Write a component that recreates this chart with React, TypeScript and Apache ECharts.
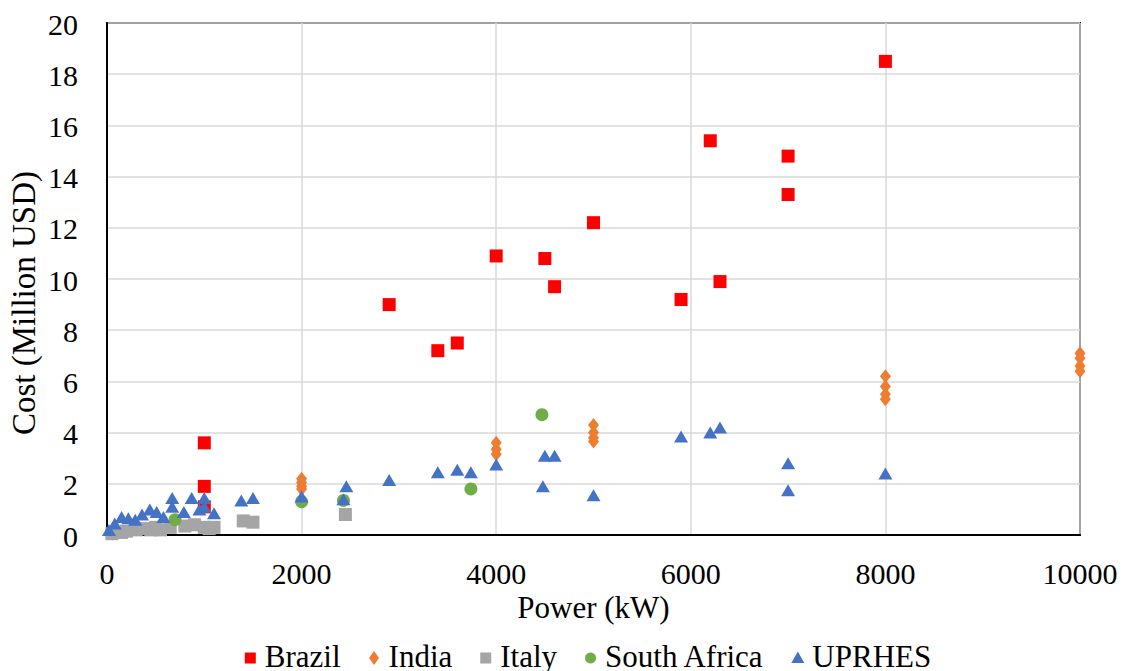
import React, { useEffect, useRef } from "react";
import * as echarts from "echarts";

const xTicks = [0, 2000, 4000, 6000, 8000, 10000];
const yTicks = [0, 2, 4, 6, 8, 10, 12, 14, 16, 18, 20];
const xTitle = "Power (kW)";
const yTitle = "Cost (Million USD)";

const seriesNames = ["Brazil", "India", "Italy", "South Africa", "UPRHES"];
const seriesColors = ["#FF0000", "#ED7D31", "#A5A5A5", "#70AD47", "#4472C4"];

const brazilX = [1000, 1000, 1000, 2900, 3400, 3600, 4000, 4500, 4600, 5000, 5900, 6200, 6300, 7000, 7000, 8000];
const brazilY = [3.6, 1.9, 1.1, 9.0, 7.2, 7.5, 10.9, 10.8, 9.7, 12.2, 9.2, 15.4, 9.9, 14.8, 13.3, 18.5];

const indiaX = [2000, 2000, 2000, 2000, 4000, 4000, 4000, 5000, 5000, 5000, 5000, 8000, 8000, 8000, 8000, 10000, 10000, 10000, 10000];
const indiaY = [2.2, 2.05, 1.9, 1.8, 3.6, 3.35, 3.15, 4.3, 4.0, 3.8, 3.65, 6.2, 5.8, 5.5, 5.3, 7.1, 6.9, 6.6, 6.4];

const italyX = [50, 150, 200, 300, 400, 450, 500, 550, 650, 800, 900, 1000, 1050, 1100, 1400, 1500, 2450];
const italyY = [0.05, 0.1, 0.15, 0.2, 0.25, 0.2, 0.3, 0.2, 0.3, 0.35, 0.4, 0.3, 0.25, 0.3, 0.55, 0.5, 0.8];

const saX = [700, 2000, 2430, 3740, 4470];
const saY = [0.6, 1.3, 1.35, 1.8, 4.7];

const upX = [20, 80, 150, 220, 290, 360, 440, 510, 580, 670, 670, 790, 870, 950, 1000, 1000, 1100, 1380, 1500, 2000, 2430, 2460, 2900, 3400, 3600, 3740, 4000, 4480, 4500, 4600, 5000, 5900, 6200, 6300, 7000, 7000, 8000];
const upY = [0.2, 0.45, 0.7, 0.65, 0.6, 0.8, 1.0, 0.9, 0.7, 1.45, 1.1, 0.9, 1.45, 1.0, 1.45, 1.1, 0.85, 1.35, 1.45, 1.5, 1.4, 1.9, 2.15, 2.45, 2.55, 2.45, 2.75, 1.9, 3.1, 3.1, 1.55, 3.85, 4.0, 4.2, 2.8, 1.75, 2.4];

const FONT = "Liberation Serif";

const zip = (xs: number[], ys: number[]) => xs.map((x, i) => [x, ys[i]]);

function measure(s: string, size: number): number {
  try {
    const ctx = document.createElement("canvas").getContext("2d");
    if (ctx) {
      ctx.font = size + "px '" + FONT + "', 'Times New Roman', serif";
      return ctx.measureText(s).width;
    }
  } catch (e) {
    /* ignore */
  }
  return s.length * size * 0.48;
}

export default function App() {
  const ref = useRef<HTMLDivElement>(null);
  useEffect(() => {
    if (!ref.current) return;
    const chart = echarts.init(ref.current, undefined, { renderer: "svg" });
    const item = (c: string) => ({ color: c, opacity: 1 });
    const xMin = xTicks[0];
    const xMax = xTicks[xTicks.length - 1];
    const yMin = yTicks[0];
    const yMax = yTicks[yTicks.length - 1];
    chart.setOption({
      animation: false,
      grid: {
        left: 107,
        right: 56,
        top: 23,
        bottom: 136,
        show: true,
        borderColor: "#000",
        borderWidth: 2,
        containLabel: false,
      },
      xAxis: {
        type: "value",
        min: xMin,
        max: xMax,
        interval: 2000,
        axisLine: { show: true, lineStyle: { color: "#000", width: 2 } },
        axisTick: { show: false },
        axisLabel: { show: false },
        splitLine: { show: true, lineStyle: { color: "#D9D9D9", width: 1.5 } },
      },
      yAxis: {
        type: "value",
        min: yMin,
        max: yMax,
        interval: 2,
        axisLine: { show: true, lineStyle: { color: "#000", width: 2 } },
        axisTick: { show: false },
        axisLabel: { show: false },
        splitLine: { show: true, lineStyle: { color: "#D9D9D9", width: 1.5 } },
      },
      series: [
        { name: seriesNames[0], type: "scatter", symbol: "rect", symbolSize: 13, itemStyle: item(seriesColors[0]), data: zip(brazilX, brazilY) },
        { name: seriesNames[1], type: "scatter", symbol: "diamond", symbolSize: [11, 14], itemStyle: item(seriesColors[1]), data: zip(indiaX, indiaY) },
        { name: seriesNames[2], type: "scatter", symbol: "rect", symbolSize: 13, itemStyle: item(seriesColors[2]), data: zip(italyX, italyY) },
        { name: seriesNames[3], type: "scatter", symbol: "circle", symbolSize: 13, itemStyle: item(seriesColors[3]), data: zip(saX, saY) },
        { name: seriesNames[4], type: "scatter", symbol: "triangle", symbolSize: [14, 12], itemStyle: item(seriesColors[4]), data: zip(upX, upY) },
      ],
    });

    const P = (x: number, y: number) => chart.convertToPixel({ gridIndex: 0 }, [x, y]) as number[];
    const txt = (text: string, x: number, y: number, size: number, align: string, vAlign: string, rotation = 0) => ({
      type: "text",
      x,
      y,
      rotation,
      silent: true,
      z: 100,
      style: {
        text,
        fontFamily: FONT,
        fontSize: size,
        fill: "#000",
        align,
        verticalAlign: vAlign,
      },
    });

    const els: any[] = [];
    xTicks.forEach((v) => {
      const p = P(v, yMin);
      els.push(txt(String(v), p[0], p[1] + 38, 30, "center", "middle"));
    });
    yTicks.forEach((v) => {
      const p = P(xMin, v);
      els.push(txt(String(v), p[0] - 29, p[1] + 1, 30, "right", "middle"));
    });
    const pb = P((xMin + xMax) / 2, yMin);
    els.push(txt(xTitle, pb[0], pb[1] + 72, 31, "center", "middle"));
    const pl = P(xMin, (yMin + yMax) / 2);
    els.push(txt(yTitle, pl[0] - 83, pl[1] + 24, 33, "center", "middle", Math.PI / 2));

    // legend
    const legendSize = 31;
    const iconW = 11;
    const iconGap = 9;
    const itemGap = 28;
    const widths = seriesNames.map((n) => measure(n, legendSize));
    const total = widths.reduce((a, w) => a + iconW + iconGap + w, 0) + itemGap * (seriesNames.length - 1);
    let cur = 588 - total / 2;
    const ly = pb[1] + 121;
    const iy = ly + 2;
    seriesNames.forEach((n, i) => {
      const cx = cur + iconW / 2;
      const fill = seriesColors[i];
      if (i === 0 || i === 2) {
        els.push({ type: "rect", silent: true, shape: { x: cx - 5.5, y: iy - 5.5, width: 11, height: 11 }, style: { fill } });
      } else if (i === 1) {
        els.push({ type: "polygon", silent: true, shape: { points: [[cx, iy - 7], [cx + 5, iy], [cx, iy + 7], [cx - 5, iy]] }, style: { fill } });
      } else if (i === 3) {
        els.push({ type: "circle", silent: true, shape: { cx, cy: iy, r: 5.5 }, style: { fill } });
      } else {
        els.push({ type: "polygon", silent: true, shape: { points: [[cx, iy - 6.5], [cx + 6.5, iy + 5], [cx - 6.5, iy + 5]] }, style: { fill } });
      }
      els.push(txt(n, cur + iconW + iconGap, ly, legendSize, "left", "middle"));
      cur += iconW + iconGap + widths[i] + itemGap;
    });

    chart.setOption({ graphic: { elements: els } });
    return () => chart.dispose();
  }, []);
  return (
    <div
      ref={ref}
      style={{ position: "fixed", left: 0, top: 0, width: 1136, height: 671, background: "#fff" }}
    />
  );
}
